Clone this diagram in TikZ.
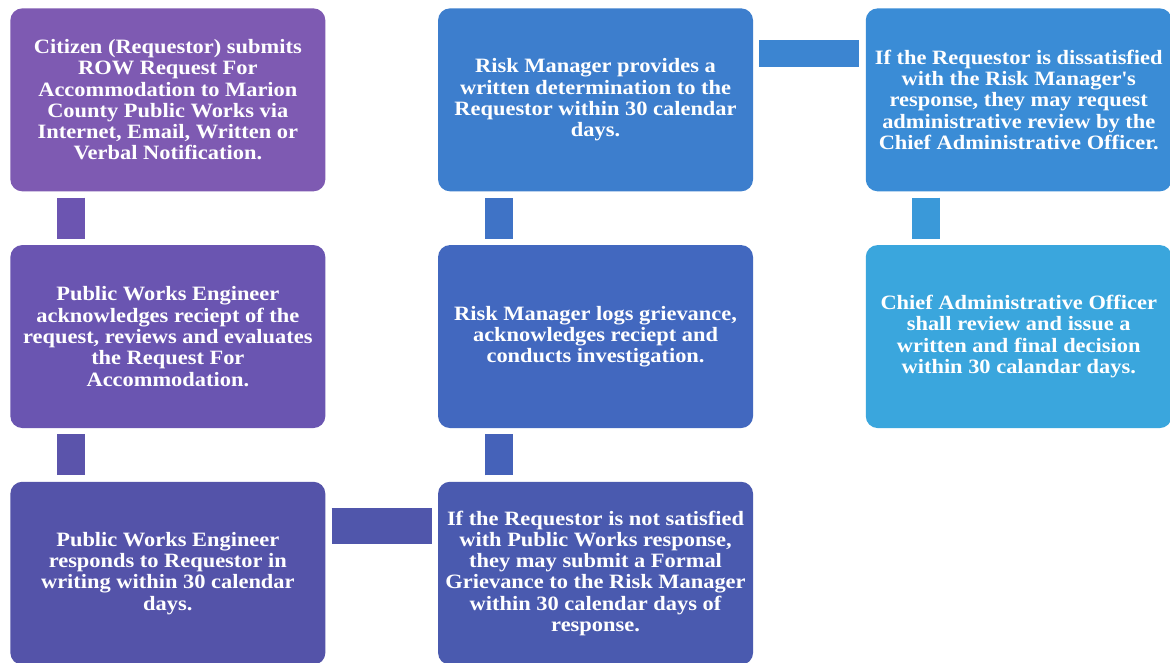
\documentclass[tikz,border=0pt]{standalone}
\usepackage{fontspec}
\setmainfont{Liberation Serif}[FakeStretch=1.1]
\usepackage{tikz}
\usetikzlibrary{positioning}

\definecolor{stepA}{HTML}{7E5AB2}
\definecolor{stepB}{HTML}{6A55B1}
\definecolor{stepC}{HTML}{5453A9}
\definecolor{stepD}{HTML}{4A5AAF}
\definecolor{stepE}{HTML}{4268BF}
\definecolor{stepF}{HTML}{3D7ECD}
\definecolor{stepG}{HTML}{3A8CD6}
\definecolor{stepH}{HTML}{3AA6DD}

\begin{document}
\begin{tikzpicture}[
  box/.style={rectangle, rounded corners=2.4mm, minimum width=6.3cm,
    minimum height=3.66cm, inner sep=0pt, text=white, align=center,
    font=\fontsize{11.6}{12.1}\selectfont\bfseries},
  vlink/.style={line width=5.6mm, shorten <=1.2mm, shorten >=1.2mm},
  hlink/.style={shorten <=1.2mm, shorten >=1.2mm},
  node distance=1.06cm and 2.24cm
]
\useasboundingbox[fill=white] (0,0) rectangle (23.4,-13.24);

% first column
\node[box, fill=stepA, anchor=north west] (submit) at (0.2,-0.16)
  {Citizen (Requestor) submits\\ROW Request For\\Accommodation to Marion\\County Public Works via\\Internet, Email, Written or\\Verbal Notification.};
\node[box, fill=stepB, below=of submit] (review)
  {Public Works Engineer\\acknowledges reciept of the\\request, reviews and evaluates\\the Request For\\Accommodation.};
\node[box, fill=stepC, below=of review] (respond)
  {Public Works Engineer\\responds to Requestor in\\writing within 30 calendar\\days.};

% second column
\node[box, fill=stepD, right=of respond] (grieve)
  {If the Requestor is not satisfied\\with Public Works response,\\they may submit a Formal\\Grievance to the Risk Manager\\within 30 calendar days of\\response.};
\node[box, fill=stepE, above=of grieve] (logs)
  {Risk Manager logs grievance,\\acknowledges reciept and\\conducts investigation.};
\node[box, fill=stepF, above=of logs] (determine)
  {Risk Manager provides a\\written determination to the\\Requestor  within 30 calendar\\days.};

% third column
\node[box, fill=stepG, minimum width=6.12cm, right=of determine] (appeal)
  {If the Requestor is dissatisfied\\with the Risk Manager\textquotesingle s\\response, they may request\\administrative review by the\\Chief Administrative Officer.};
\node[box, fill=stepH, minimum width=6.12cm, below=of appeal] (decision)
  {Chief Administrative Officer\\shall review and issue a\\written and final decision\\within 30 calandar days.};

% connectors
\draw[vlink, color=stepB!90!stepA] ([xshift=1.22cm]submit.south west) -- ([xshift=1.22cm]review.north west);
\draw[vlink, color=stepC!70!stepB] ([xshift=1.22cm]review.south west) -- ([xshift=1.22cm]respond.north west);
\draw[hlink, line width=7.2mm, color=stepC!60!stepD] ([yshift=-0.9cm]respond.north east) -- ([yshift=-0.9cm]grieve.north west);
\draw[vlink, color=stepE!60!stepD] ([xshift=1.22cm]grieve.north west) -- ([xshift=1.22cm]logs.south west);
\draw[vlink, color=stepF!50!stepE] ([xshift=1.22cm]logs.north west) -- ([xshift=1.22cm]determine.south west);
\draw[hlink, line width=5.4mm, color=stepG!50!stepF] ([yshift=-0.91cm]determine.north east) -- ([yshift=-0.91cm]appeal.north west);
\draw[vlink, color=stepH!50!stepG] ([xshift=1.22cm]appeal.south west) -- ([xshift=1.22cm]decision.north west);
\end{tikzpicture}
\end{document}
